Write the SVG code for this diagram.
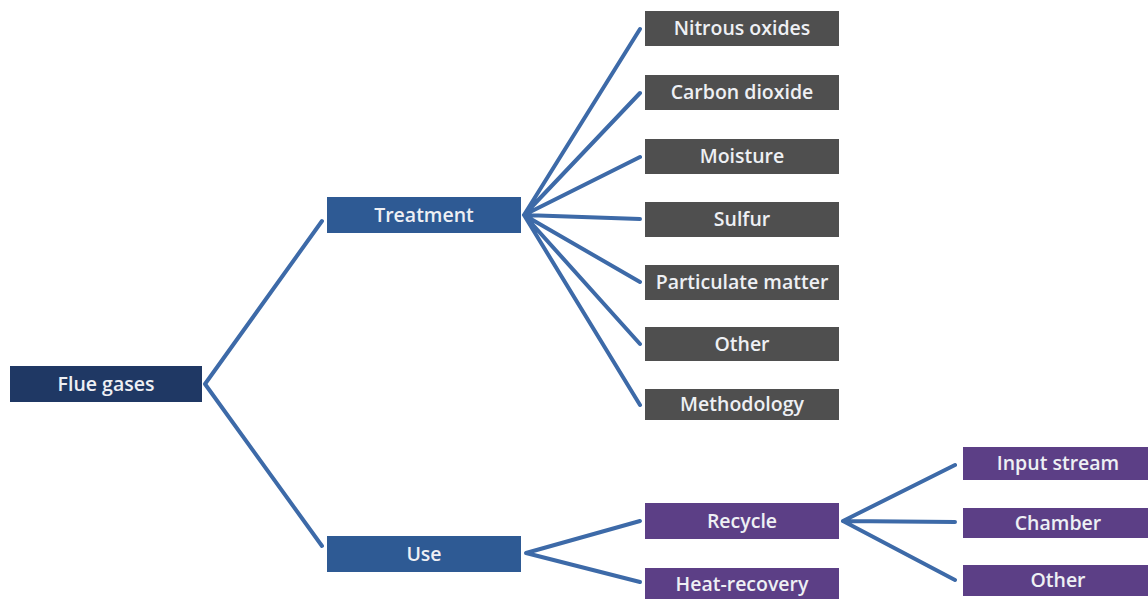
<svg xmlns="http://www.w3.org/2000/svg" width="1148" height="599" viewBox="0 0 1148 599">
<style>
.l{stroke:#3d6aa8;stroke-width:4;fill:none;stroke-linecap:round}
.t{font-family:"Open Sans","Liberation Sans",sans-serif;font-size:19.5px;font-weight:600;fill:#eef0f4;text-anchor:middle;dominant-baseline:central}
.navy{fill:#1f3864}.blue{fill:#2e5a94}.gray{fill:#4f4f4f}.purple{fill:#5c3f86}
</style>
<rect width="1148" height="599" fill="#fff"/>
<g id="connectors">
<path class="l" d="M205 384 L322 221 M205 384 L322 546"/>
<path class="l" d="M524 215 L640 29 M524 215 L640 93 M524 215 L640 157 M524 215 L640 219 M524 215 L640 282 M524 215 L640 344 M524 215 L640 405"/>
<path class="l" d="M526 553 L640 521 M526 553 L640 582"/>
<path class="l" d="M843 521 L955 465 M843 521 L955 522 M843 521 L955 580"/>
</g>
<g id="n-flue"><rect class="navy" x="10" y="366" width="192" height="36"/><text class="t" x="106" y="383">Flue gases</text></g>
<g id="n-treatment"><rect class="blue" x="327" y="197" width="194" height="36"/><text class="t" x="424" y="214">Treatment</text></g>
<g id="n-use"><rect class="blue" x="327" y="536" width="194" height="36"/><text class="t" x="424" y="553">Use</text></g>
<g id="n-nitrous"><rect class="gray" x="645" y="11" width="194" height="35"/><text class="t" x="742" y="27.5">Nitrous oxides</text></g>
<g id="n-carbon"><rect class="gray" x="645" y="75" width="194" height="35"/><text class="t" x="742" y="91.5">Carbon dioxide</text></g>
<g id="n-moisture"><rect class="gray" x="645" y="139" width="194" height="35"/><text class="t" x="742" y="155.5">Moisture</text></g>
<g id="n-sulfur"><rect class="gray" x="645" y="202" width="194" height="35"/><text class="t" x="742" y="218.5">Sulfur</text></g>
<g id="n-particulate"><rect class="gray" x="645" y="265" width="194" height="35"/><text class="t" x="742" y="281.5">Particulate matter</text></g>
<g id="n-other1"><rect class="gray" x="645" y="327" width="194" height="34"/><text class="t" x="742" y="343">Other</text></g>
<g id="n-methodology"><rect class="gray" x="645" y="389" width="194" height="31"/><text class="t" x="742" y="403.5">Methodology</text></g>
<g id="n-recycle"><rect class="purple" x="645" y="503" width="194" height="36"/><text class="t" x="742" y="520">Recycle</text></g>
<g id="n-heat"><rect class="purple" x="645" y="568" width="194" height="36"/><text class="t" x="742" y="583">Heat-recovery</text></g>
<g id="n-input"><rect class="purple" x="963" y="447" width="190" height="33"/><text class="t" x="1058" y="462.5">Input stream</text></g>
<g id="n-chamber"><rect class="purple" x="963" y="508" width="190" height="30"/><text class="t" x="1058" y="522">Chamber</text></g>
<g id="n-other2"><rect class="purple" x="963" y="565" width="190" height="31"/><text class="t" x="1058" y="579.5">Other</text></g>
</svg>
